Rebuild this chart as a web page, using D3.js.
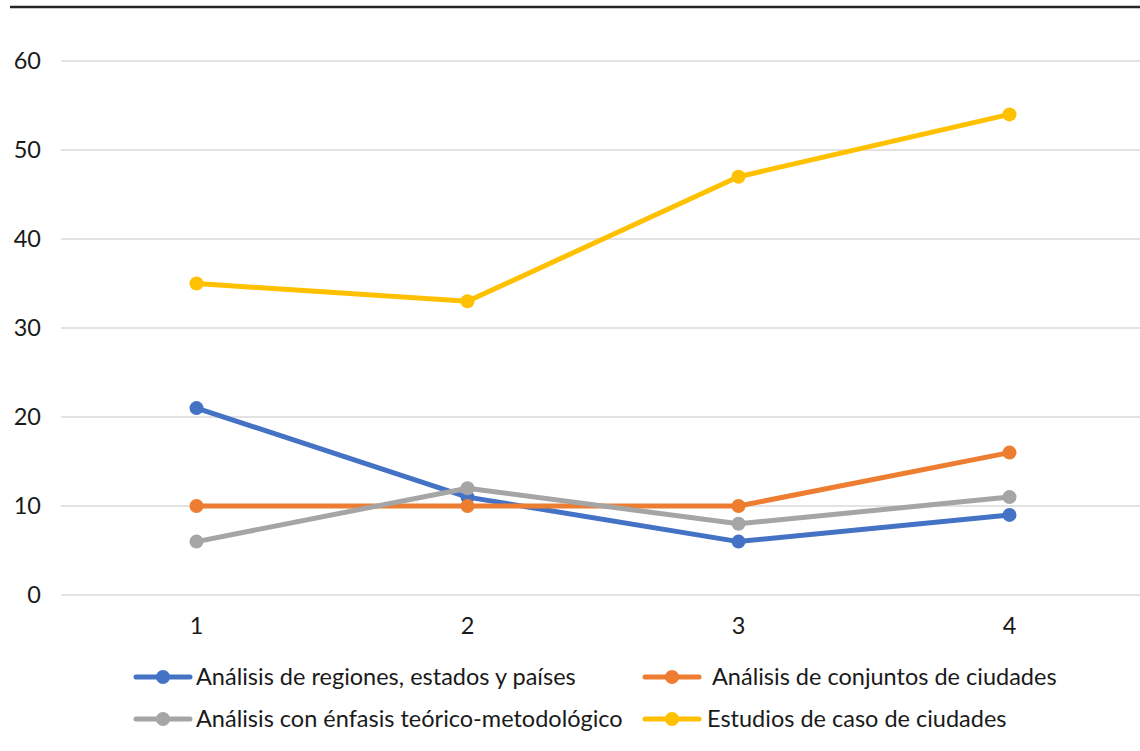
<!DOCTYPE html>
<html>
<head>
<meta charset="utf-8">
<script src="https://cdn.jsdelivr.net/npm/d3@7"></script>
<style>
  body { margin: 0; background: #fff; }
  svg { display: block; font-family: Lato, "Open Sans", sans-serif; }
</style>
</head>
<body>
<div id="chart"></div>
<script>
const categories = ["1", "2", "3", "4"];
const yTicks = [0, 10, 20, 30, 40, 50, 60];
const seriesNames = [
  "Análisis de regiones, estados y países",
  "Análisis de conjuntos de ciudades",
  "Análisis con énfasis teórico-metodológico",
  "Estudios de caso de ciudades"
];
const regionesValues = [21, 11, 6, 9];
const conjuntosValues = [10, 10, 10, 16];
const teoricoValues = [6, 12, 8, 11];
const casoValues = [35, 33, 47, 54];
const seriesColors = ["#4472c4", "#ed7d31", "#a5a5a5", "#ffc000"];

const width = 1140;
const height = 751;
const margin = { top: 61, right: 0, bottom: 156, left: 61 };
const fontSize = 23.5;

const series = [regionesValues, conjuntosValues, teoricoValues, casoValues].map((values, i) => ({
  name: seriesNames[i],
  color: seriesColors[i],
  values
}));

const svg = d3.select("#chart")
  .append("svg")
  .attr("width", width)
  .attr("height", height);

// top rule
svg.append("line")
  .attr("x1", 10).attr("x2", width)
  .attr("y1", 7).attr("y2", 7)
  .attr("stroke", "#262626")
  .attr("stroke-width", 2.5);

const xScale = d3.scaleBand()
  .domain(categories)
  .range([margin.left, margin.left + 4 * 271])
  .padding(0);

const yScale = d3.scaleLinear()
  .domain([0, 60])
  .range([595, margin.top]);

const xPos = (c) => xScale(c) + xScale.bandwidth() / 2;

// gridlines
svg.append("g")
  .selectAll("line")
  .data(yTicks)
  .join("line")
  .attr("x1", margin.left)
  .attr("x2", width)
  .attr("y1", (d) => yScale(d))
  .attr("y2", (d) => yScale(d))
  .attr("stroke", "#d9d9d9")
  .attr("stroke-width", 1.5);

// y labels
svg.append("g")
  .selectAll("text")
  .data(yTicks)
  .join("text")
  .attr("x", 41)
  .attr("y", (d) => yScale(d))
  .attr("dy", "0.35em")
  .attr("text-anchor", "end")
  .attr("font-size", fontSize)
  .attr("fill", "#1a1a1a")
  .text((d) => d);

// x labels
svg.append("g")
  .selectAll("text")
  .data(categories)
  .join("text")
  .attr("x", (d) => xPos(d))
  .attr("y", 626)
  .attr("dy", "0.35em")
  .attr("text-anchor", "middle")
  .attr("font-size", fontSize)
  .attr("fill", "#1a1a1a")
  .text((d) => d);

const line = d3.line()
  .x((d, i) => xPos(categories[i]))
  .y((d) => yScale(d));

const seriesG = svg.append("g")
  .selectAll("g")
  .data(series)
  .join("g");

seriesG.append("path")
  .attr("d", (d) => line(d.values))
  .attr("fill", "none")
  .attr("stroke", (d) => d.color)
  .attr("stroke-width", 5)
  .attr("stroke-linejoin", "round")
  .attr("stroke-linecap", "round");

seriesG.selectAll("circle")
  .data((d) => d.values.map((v, i) => ({ v, i, color: d.color })))
  .join("circle")
  .attr("cx", (d) => xPos(categories[d.i]))
  .attr("cy", (d) => yScale(d.v))
  .attr("r", 7)
  .attr("fill", (d) => d.color);

// legend
const legendPos = [
  { x: 136, y: 677, tx: 196 },
  { x: 645, y: 677, tx: 712 },
  { x: 136, y: 719, tx: 196 },
  { x: 645, y: 719, tx: 707 }
];

const legend = svg.append("g")
  .selectAll("g")
  .data(series)
  .join("g")
  .attr("transform", (d, i) => `translate(${legendPos[i].x},${legendPos[i].y})`);

legend.append("line")
  .attr("x1", 0).attr("x2", 54)
  .attr("y1", 0).attr("y2", 0)
  .attr("stroke", (d) => d.color)
  .attr("stroke-width", 5)
  .attr("stroke-linecap", "round");

legend.append("circle")
  .attr("cx", 27)
  .attr("cy", 0)
  .attr("r", 7)
  .attr("fill", (d) => d.color);

legend.append("text")
  .attr("x", (d, i) => legendPos[i].tx - legendPos[i].x)
  .attr("y", 0)
  .attr("dy", "0.35em")
  .attr("font-size", fontSize)
  .attr("fill", "#1a1a1a")
  .text((d) => d.name);
</script>
</body>
</html>
